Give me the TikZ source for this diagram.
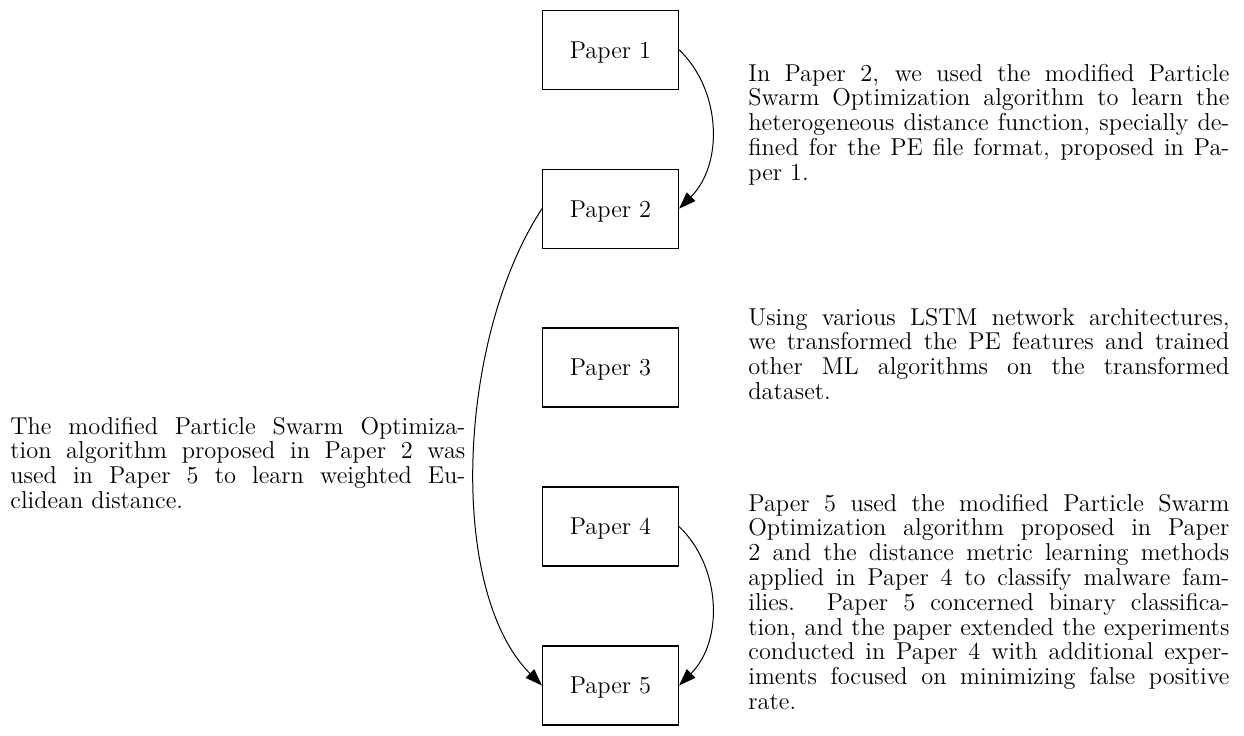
\documentclass[tikz,border=0pt]{standalone}
\usetikzlibrary{arrows.meta}
\begin{document}
\begin{tikzpicture}[x=0.5pt,y=-0.5pt,
  txt/.style={font=\fontsize{12.2}{12.4}\selectfont},
  paperbox/.style={txt,draw,line width=0.55pt,minimum width=68pt,minimum height=39.5pt,inner sep=0pt,text depth=0pt},
  para/.style={txt,inner sep=0pt,align=justify,anchor=base west},
  link/.style={line width=0.5pt,-{Triangle[length=8.5pt,width=6pt]}}]
\useasboundingbox (0,0) rectangle (1244,735);
\node[paperbox] (p1) at (610.5,49.7) {Paper 1};
\node[paperbox] (p2) at (610.5,208.7) {Paper 2};
\node[paperbox] (p3) at (610.5,367.5) {Paper 3};
\node[paperbox] (p4) at (610.5,526.5) {Paper 4};
\node[paperbox] (p5) at (610.5,685.5) {Paper 5};
\draw[link] (p1.east) .. controls +(42,40) and +(45,-45) .. (p2.east);
\draw[link] (p4.east) .. controls +(42,40) and +(45,-45) .. (p5.east);
\draw[link] (p2.west) .. controls +(-85,130) and +(-95,-95) .. (p5.west);
\node[para,text width=240.5pt] (t1) at (748,81) {In Paper 2, we used the modified Particle\linebreak
Swarm Optimization algorithm to learn the\linebreak
heterogeneous distance function, specially de-\linebreak
fined for the PE file format, proposed in Pa-\linebreak
per 1.};
\node[para,text width=240.5pt] (t2) at (748,325) {Using various LSTM network architectures,\linebreak
we transformed the PE features and trained\linebreak
other ML algorithms on the transformed\linebreak
dataset.};
\node[para,text width=240.5pt] (t3) at (748,511) {Paper 5 used the modified Particle Swarm\linebreak
Optimization algorithm proposed in Paper\linebreak
2 and the distance metric learning methods\linebreak
applied in Paper 4 to classify malware fam-\linebreak
ilies. Paper 5 concerned binary classifica-\linebreak
tion, and the paper extended the experiments\linebreak
conducted in Paper 4 with additional exper-\linebreak
iments focused on minimizing false positive\linebreak
rate.};
\node[para,text width=227.5pt] (t4) at (10,434) {The modified Particle Swarm Optimiza-\linebreak
tion algorithm proposed in Paper 2 was\linebreak
used in Paper 5 to learn weighted Eu-\linebreak
clidean distance.};
\end{tikzpicture}
\end{document}
